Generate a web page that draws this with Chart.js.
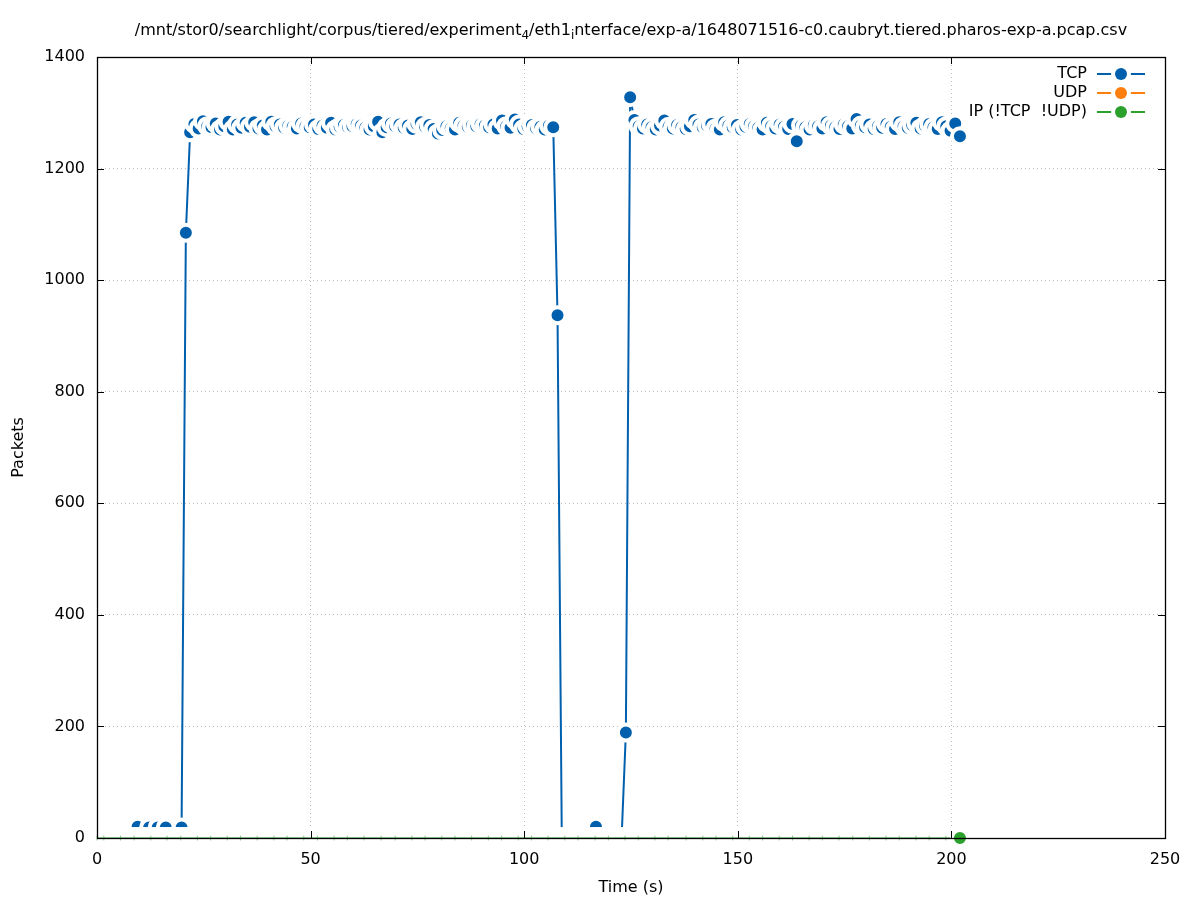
<!DOCTYPE html>
<html>
<head>
<meta charset="utf-8">
<script src="https://cdn.jsdelivr.net/npm/chart.js@4.4.1/dist/chart.umd.min.js"></script>
<style>
    html, body { margin: 0; padding: 0; background: #fff; }
    #wrap { width: 1197px; height: 900px; }
</style>
</head>
<body>
<div id="wrap"><canvas id="packets-canvas" width="1197" height="900"></canvas></div>
<script>
'use strict';

// Время (с) и число пакетов TCP
const tcpTimes = [
    9.5, 12.2, 14.2, 16.1, 19.8, 20.8, 21.8, 22.8, 23.8, 24.8,
    25.8, 26.8, 27.8, 28.8, 29.8, 30.8, 31.8, 32.8, 33.8, 34.8,
    35.8, 36.8, 37.8, 38.8, 39.8, 40.8, 41.8, 42.8, 43.8, 44.8,
    45.8, 46.8, 47.8, 48.8, 49.8, 50.8, 51.8, 52.8, 53.8, 54.8,
    55.8, 56.8, 57.8, 58.8, 59.8, 60.8, 61.8, 62.8, 63.8, 64.8,
    65.8, 66.8, 67.8, 68.8, 69.8, 70.8, 71.8, 72.8, 73.8, 74.8,
    75.8, 76.8, 77.8, 78.8, 79.8, 80.8, 81.8, 82.8, 83.8, 84.8,
    85.8, 86.8, 87.8, 88.8, 89.8, 90.8, 91.8, 92.8, 93.8, 94.8,
    95.8, 96.8, 97.8, 98.8, 99.8, 100.8, 101.8, 102.8, 103.8, 104.8,
    105.8, 106.8, 107.8, 108.8, 116.8, 122.8, 123.8, 124.8, 125.8, 126.8,
    127.8, 128.8, 129.8, 130.8, 131.8, 132.8, 133.8, 134.8, 135.8, 136.8,
    137.8, 138.8, 139.8, 140.8, 141.8, 142.8, 143.8, 144.8, 145.8, 146.8,
    147.8, 148.8, 149.8, 150.8, 151.8, 152.8, 153.8, 154.8, 155.8, 156.8,
    157.8, 158.8, 159.8, 160.8, 161.8, 162.8, 163.8, 164.8, 165.8, 166.8,
    167.8, 168.8, 169.8, 170.8, 171.8, 172.8, 173.8, 174.8, 175.8, 176.8,
    177.8, 178.8, 179.8, 180.8, 181.8, 182.8, 183.8, 184.8, 185.8, 186.8,
    187.8, 188.8, 189.8, 190.8, 191.8, 192.8, 193.8, 194.8, 195.8, 196.8,
    197.8, 198.8, 199.8, 200.9, 202.0
];
const tcpPackets = [
    20, 19, 19, 19, 19, 1085, 1265, 1280, 1272, 1285,
    1276, 1274, 1281, 1270, 1276, 1284, 1270, 1279, 1273, 1282,
    1275, 1283, 1272, 1277, 1270, 1284, 1276, 1279, 1273, 1277,
    1275, 1272, 1281, 1276, 1274, 1279, 1271, 1277, 1273, 1282,
    1270, 1275, 1278, 1274, 1276, 1280, 1277, 1273, 1270, 1276,
    1284, 1265, 1274, 1281, 1276, 1279, 1273, 1277, 1271, 1280,
    1283, 1275, 1278, 1271, 1263, 1269, 1276, 1272, 1270, 1282,
    1277, 1275, 1278, 1276, 1280, 1277, 1274, 1279, 1272, 1286,
    1276, 1273, 1288, 1279, 1271, 1276, 1278, 1272, 1275, 1270,
    1277, 1274, 937, 0, 20, 0, 189, 1328, 1287, 1276,
    1272, 1279, 1274, 1270, 1277, 1286, 1275, 1272, 1278, 1274,
    1271, 1276, 1287, 1279, 1274, 1277, 1280, 1272, 1270, 1283,
    1277, 1274, 1278, 1270, 1275, 1280, 1276, 1273, 1270, 1282,
    1276, 1272, 1279, 1275, 1271, 1280, 1249, 1277, 1274, 1270,
    1278, 1276, 1272, 1283, 1277, 1274, 1271, 1279, 1276, 1272,
    1289, 1277, 1274, 1279, 1271, 1276, 1273, 1280, 1275, 1271,
    1283, 1276, 1273, 1278, 1282, 1272, 1277, 1280, 1274, 1271,
    1283, 1276, 1268, 1281, 1258
];

// UDP и прочий IP всё время по нулям
const ipTimes = [
    0, 1.6, 5.5, 8.7, 12.6, 16.4, 19.6, 23.5, 26.6, 30.5,
    33.6, 37.5, 41.4, 44.5, 48.4, 51.6, 55.5, 58.6, 62.5, 66.5,
    69.8, 73.7, 76.8, 80.7, 83.8, 87.7, 91.6, 94.7, 98.6, 101.7,
    105.6, 109.5, 112.6, 116.6, 119.7, 123.6, 126.7, 130.6, 133.7, 137.9,
    141.8, 144.9, 148.8, 152.7, 155.8, 159.7, 162.8, 166.7, 169.8, 173.7,
    176.9, 180.8, 184.7, 187.8, 191.7, 194.8, 198.7, 202.0
];
const udpPackets = [
    0, 0, 0, 0, 0, 0, 0, 0, 0, 0,
    0, 0, 0, 0, 0, 0, 0, 0, 0, 0,
    0, 0, 0, 0, 0, 0, 0, 0, 0, 0,
    0, 0, 0, 0, 0, 0, 0, 0, 0, 0,
    0, 0, 0, 0, 0, 0, 0, 0, 0, 0,
    0, 0, 0, 0, 0, 0, 0, 0
];
const ipPackets = [
    0, 0, 0, 0, 0, 0, 0, 0, 0, 0,
    0, 0, 0, 0, 0, 0, 0, 0, 0, 0,
    0, 0, 0, 0, 0, 0, 0, 0, 0, 0,
    0, 0, 0, 0, 0, 0, 0, 0, 0, 0,
    0, 0, 0, 0, 0, 0, 0, 0, 0, 0,
    0, 0, 0, 0, 0, 0, 0, 0
];

const seriesNames = ['TCP', 'UDP', 'IP (!TCP  !UDP)'];
const xTicks = [0, 50, 100, 150, 200, 250];
const yTicks = [0, 200, 400, 600, 800, 1000, 1200, 1400];

const titleParts = [
    ['/mnt/stor0/searchlight/corpus/tiered/experiment', false],
    ['4', true],
    ['/eth1', false],
    ['i', true],
    ['nterface/exp-a/1648071516-c0.caubryt.tiered.pharos-exp-a.pcap.csv', false]
];

const colors = ['#0060ad', '#ff7f0e', '#2ca02c'];
const FONT = '"DejaVu Sans", sans-serif';

function toPoints(xs, ys) {
    let pts = [];
    for (let i = 0; i < xs.length; i++)
        pts.push({x: xs[i], y: ys[i]});
    return pts;
}

//Рамка с засечками внутрь, как в gnuplot
const framePlugin = {
    id: 'frame',
    afterDatasetsDraw(chart) {
        const ctx = chart.ctx;
        const a = chart.chartArea;
        const xs = chart.scales.x, ys = chart.scales.y;
        ctx.save();
        ctx.strokeStyle = '#000';
        ctx.lineWidth = 1.3;
        ctx.strokeRect(Math.round(a.left) + 0.5, Math.round(a.top) + 0.5,
            Math.round(a.right - a.left), Math.round(a.bottom - a.top));
        ctx.lineWidth = 1;
        ctx.beginPath();
        xs.ticks.forEach(t => {
            const px = Math.round(xs.getPixelForValue(t.value)) + 0.5;
            ctx.moveTo(px, a.bottom); ctx.lineTo(px, a.bottom - 7);
            ctx.moveTo(px, a.top); ctx.lineTo(px, a.top + 7);
        });
        ys.ticks.forEach(t => {
            const py = Math.round(ys.getPixelForValue(t.value)) + 0.5;
            ctx.moveTo(a.left, py); ctx.lineTo(a.left + 7, py);
            ctx.moveTo(a.right, py); ctx.lineTo(a.right - 7, py);
        });
        ctx.stroke();
        ctx.restore();
    }
};

//Заголовок с подстрочными символами
const titlePlugin = {
    id: 'gnuTitle',
    afterDraw(chart) {
        const ctx = chart.ctx;
        const a = chart.chartArea;
        const big = '16px ' + FONT, small = '12px ' + FONT;
        ctx.save();
        let w = 0;
        titleParts.forEach(p => {
            ctx.font = p[1] ? small : big;
            w += ctx.measureText(p[0]).width;
        });
        let x = (a.left + a.right) / 2 - w / 2;
        const y = 35;
        ctx.fillStyle = '#000';
        ctx.textBaseline = 'alphabetic';
        ctx.textAlign = 'left';
        titleParts.forEach(p => {
            ctx.font = p[1] ? small : big;
            ctx.fillText(p[0], x, p[1] ? y + 4 : y);
            x += ctx.measureText(p[0]).width;
        });
        ctx.restore();
    }
};

//Легенда справа вверху: подпись, потом линия с точкой
const legendPlugin = {
    id: 'gnuLegend',
    afterDraw(chart) {
        const ctx = chart.ctx;
        const a = chart.chartArea;
        const textRight = a.right - 78;
        const lineLeft = a.right - 68, lineRight = a.right - 20;
        ctx.save();
        ctx.font = '16px ' + FONT;
        ctx.textAlign = 'right';
        ctx.textBaseline = 'middle';
        for (let i = 0; i < seriesNames.length; i++) {
            const y = a.top + 17 + i * 19;
            ctx.fillStyle = '#000';
            ctx.fillText(seriesNames[i], textRight, y);
            ctx.strokeStyle = colors[i];
            ctx.lineWidth = 2;
            ctx.beginPath();
            ctx.moveTo(lineLeft, y); ctx.lineTo(lineRight, y);
            ctx.stroke();
            const cx = (lineLeft + lineRight) / 2;
            ctx.fillStyle = '#fff';
            ctx.beginPath(); ctx.arc(cx, y, 10, 0, Math.PI * 2); ctx.fill();
            ctx.fillStyle = colors[i];
            ctx.beginPath(); ctx.arc(cx, y, 6, 0, Math.PI * 2); ctx.fill();
        }
        ctx.restore();
    }
};

const lastIp = ipTimes.length - 1;

let chart = new Chart(document.getElementById('packets-canvas'), {
    type: 'line',
    data: {
        datasets: [{
            label: seriesNames[0],
            data: toPoints(tcpTimes, tcpPackets),
            borderColor: colors[0],
            borderWidth: 2,
            pointRadius: 8,
            pointBorderWidth: 4,
            pointBorderColor: '#fff',
            pointBackgroundColor: colors[0],
            order: 3
        }, {
            label: seriesNames[1],
            data: toPoints(ipTimes, udpPackets),
            borderColor: colors[1],
            borderWidth: 1,
            pointStyle: 'rect',
            pointRadius: 15.5,
            pointBorderWidth: 0,
            pointBackgroundColor: '#fff',
            clip: 0,
            order: 2
        }, {
            label: seriesNames[2],
            data: toPoints(ipTimes, ipPackets),
            borderColor: colors[2],
            borderWidth: 1,
            pointStyle: c => c.dataIndex === lastIp ? 'circle' : 'line',
            rotation: c => c.dataIndex === lastIp ? 0 : 90,
            pointRadius: c => c.dataIndex === lastIp ? 8 : 2.5,
            pointBorderWidth: c => c.dataIndex === lastIp ? 4 : 1,
            pointBorderColor: c => c.dataIndex === lastIp ? '#fff' : 'rgba(44,160,44,0.5)',
            pointBackgroundColor: colors[2],
            clip: false,
            order: 1
        }]
    },
    options: {
        responsive: false,
        animation: false,
        events: [],
        layout: {padding: {top: 57, right: 32, bottom: 0, left: 0}},
        plugins: {
            legend: {display: false},
            title: {display: false},
            tooltip: {enabled: false}
        },
        scales: {
            x: {
                type: 'linear',
                min: 0,
                max: 250,
                afterBuildTicks: s => { s.ticks = xTicks.map(v => ({value: v})); },
                afterFit: s => { s.height = 62; },
                grid: {color: '#bdbdbd', lineWidth: 1, drawTicks: false},
                border: {display: false, dash: [1, 3]},
                ticks: {color: '#000', padding: 12, font: {family: FONT, size: 16}, maxRotation: 0, callback: v => String(v)},
                title: {display: true, text: 'Time (s)', color: '#000', font: {family: FONT, size: 16}, padding: {top: 0, bottom: 3}}
            },
            y: {
                min: 0,
                max: 1400,
                afterBuildTicks: s => { s.ticks = yTicks.map(v => ({value: v})); },
                afterFit: s => { s.width = 97; },
                grid: {color: '#bdbdbd', lineWidth: 1, drawTicks: false},
                border: {display: false, dash: [1, 3]},
                ticks: {color: '#000', padding: 12, font: {family: FONT, size: 16}, callback: v => String(v)},
                title: {display: true, text: 'Packets', color: '#000', font: {family: FONT, size: 16}, padding: {top: 9, bottom: 0}}
            }
        }
    },
    plugins: [framePlugin, titlePlugin, legendPlugin]
});
</script>
</body>
</html>
